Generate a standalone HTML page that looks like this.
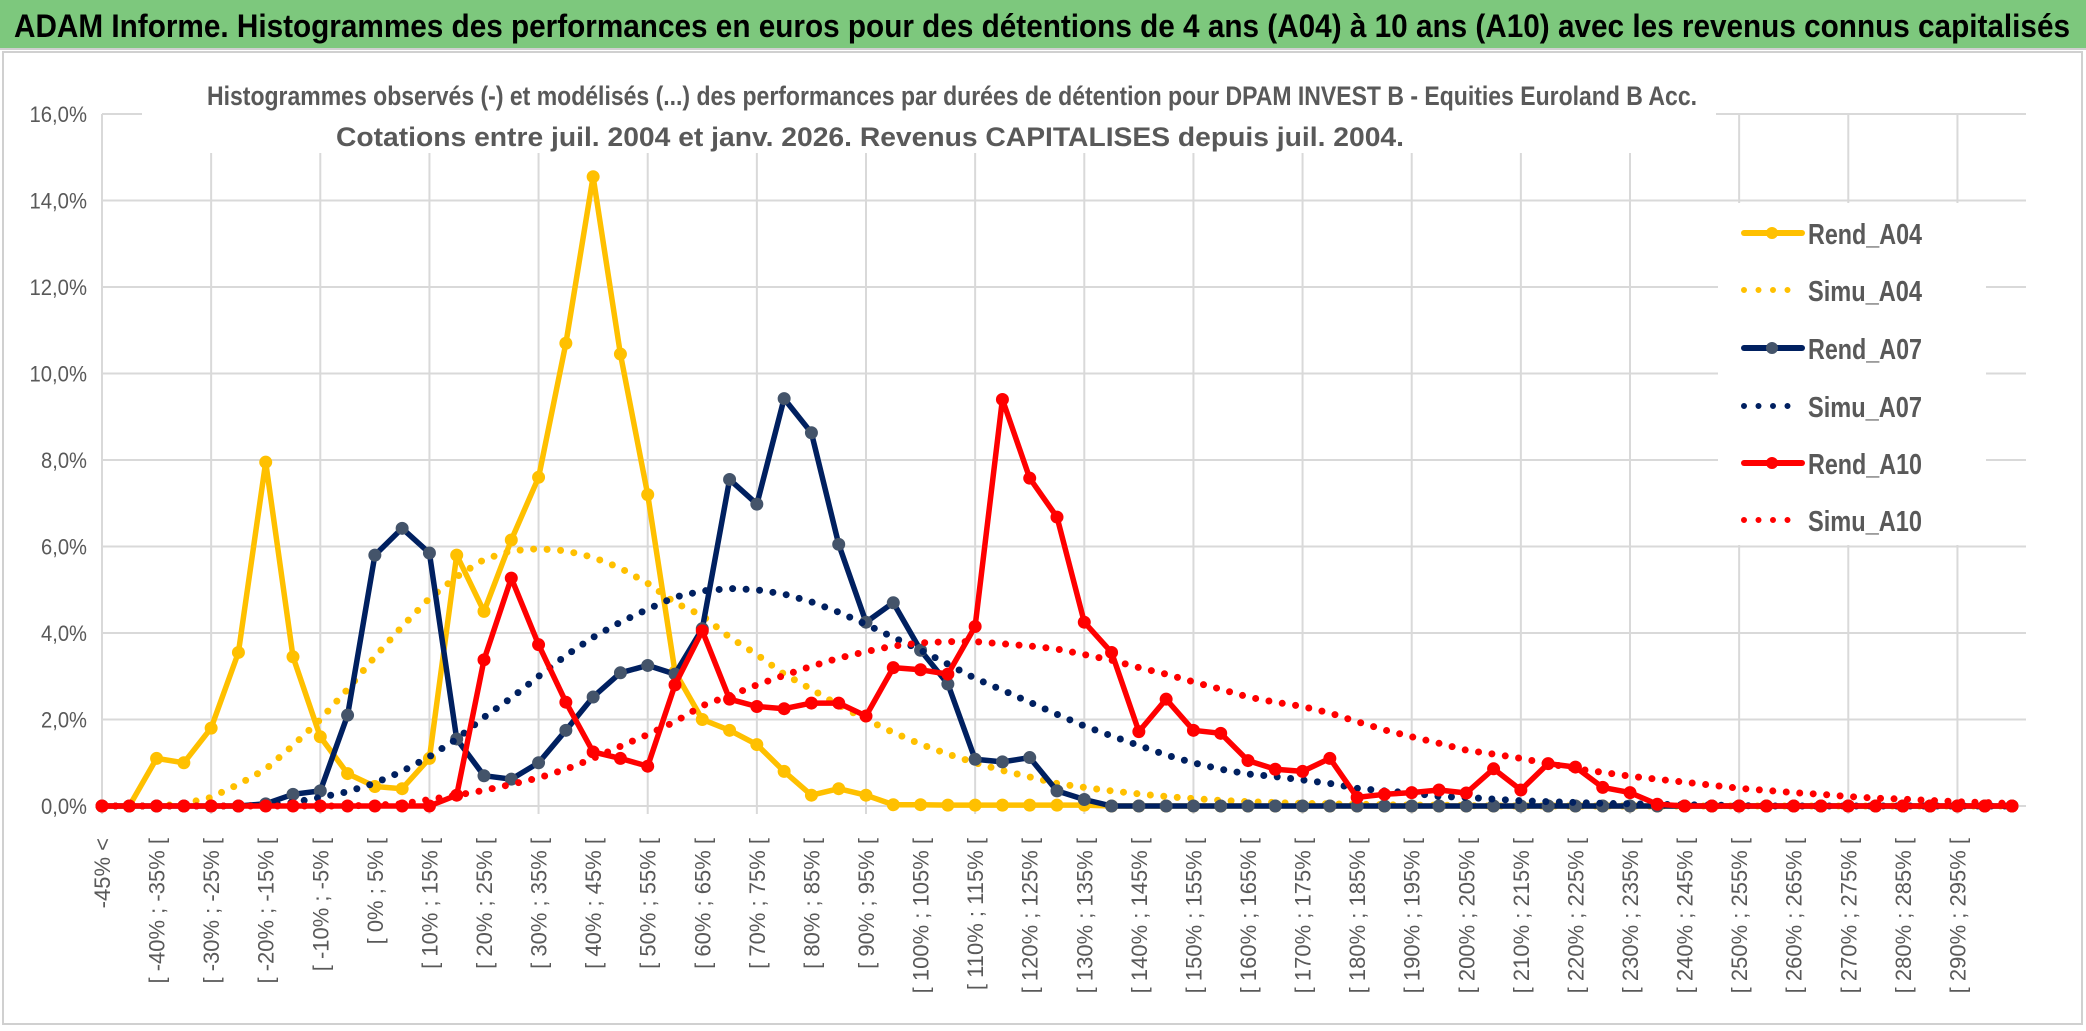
<!DOCTYPE html>
<html><head><meta charset="utf-8"><style>
html,body{margin:0;padding:0;background:#fff;}
svg{display:block;}
text{font-family:"Liberation Sans",sans-serif;}
</style></head><body>
<svg id="chart" width="2086" height="1031" viewBox="0 0 2086 1031" xmlns="http://www.w3.org/2000/svg">
<rect x="0" y="0" width="2086" height="1031" fill="#fff"/>
<rect x="0" y="0" width="2086" height="48" fill="#7DC87D"/>
<line x1="0" y1="49" x2="2086" y2="49" stroke="#cfcfcf" stroke-width="2"/>
<text x="14" y="37" font-size="32" font-weight="bold" fill="#000" textLength="2056" lengthAdjust="spacingAndGlyphs">ADAM Informe. Histogrammes des performances en euros pour des détentions de 4 ans (A04) à 10 ans (A10) avec les revenus connus capitalisés</text>
<rect x="3" y="52" width="2079" height="972" fill="none" stroke="#d0d0d0" stroke-width="2"/>
<g id="grid"></g>
<rect x="142" y="60" width="1574" height="93" fill="#fff"/>
<text x="952" y="105" font-size="27" font-weight="bold" fill="#595959" text-anchor="middle" textLength="1490" lengthAdjust="spacingAndGlyphs">Histogrammes observés (-) et modélisés (...) des performances par durées de détention pour DPAM INVEST B - Equities Euroland B Acc.</text>
<text x="870" y="146" font-size="27" font-weight="bold" fill="#595959" text-anchor="middle" textLength="1068" lengthAdjust="spacingAndGlyphs">Cotations entre juil. 2004 et janv. 2026. Revenus CAPITALISES depuis juil. 2004.</text>
<g id="yaxis"></g>
<g id="xaxis"></g>
<g id="series"></g>
<g id="legend"></g>
</svg>
<script>
const categories = ["-45% <","[ -45% ; -40% [","[ -40% ; -35% [","[ -35% ; -30% [","[ -30% ; -25% [","[ -25% ; -20% [","[ -20% ; -15% [","[ -15% ; -10% [","[ -10% ; -5% [","[ -5% ; 0% [","[ 0% ; 5% [","[ 5% ; 10% [","[ 10% ; 15% [","[ 15% ; 20% [","[ 20% ; 25% [","[ 25% ; 30% [","[ 30% ; 35% [","[ 35% ; 40% [","[ 40% ; 45% [","[ 45% ; 50% [","[ 50% ; 55% [","[ 55% ; 60% [","[ 60% ; 65% [","[ 65% ; 70% [","[ 70% ; 75% [","[ 75% ; 80% [","[ 80% ; 85% [","[ 85% ; 90% [","[ 90% ; 95% [","[ 95% ; 100% [","[ 100% ; 105% [","[ 105% ; 110% [","[ 110% ; 115% [","[ 115% ; 120% [","[ 120% ; 125% [","[ 125% ; 130% [","[ 130% ; 135% [","[ 135% ; 140% [","[ 140% ; 145% [","[ 145% ; 150% [","[ 150% ; 155% [","[ 155% ; 160% [","[ 160% ; 165% [","[ 165% ; 170% [","[ 170% ; 175% [","[ 175% ; 180% [","[ 180% ; 185% [","[ 185% ; 190% [","[ 190% ; 195% [","[ 195% ; 200% [","[ 200% ; 205% [","[ 205% ; 210% [","[ 210% ; 215% [","[ 215% ; 220% [","[ 220% ; 225% [","[ 225% ; 230% [","[ 230% ; 235% [","[ 235% ; 240% [","[ 240% ; 245% [","[ 245% ; 250% [","[ 250% ; 255% [","[ 255% ; 260% [","[ 260% ; 265% [","[ 265% ; 270% [","[ 270% ; 275% [","[ 275% ; 280% [","[ 280% ; 285% [","[ 285% ; 290% [","[ 290% ; 295% [","[ 295% ; 300% [","300% <"];
const rendA04 = [0,0,1.1,1.0,1.8,3.55,7.95,3.45,1.6,0.75,0.45,0.4,1.1,5.8,4.5,6.15,7.6,10.7,14.55,10.45,7.2,3.1,2.0,1.75,1.42,0.8,0.25,0.4,0.25,0.03,0.03,0.02,0.02,0.02,0.02,0.02,0.02,0,0,0,0,0,0,0,0,0,0,0,0,0,0,0,0,0,0,0,0,0,0,0,0,0,0,0,0,0,0,0,0,0,0];
const simuA04 = [0,0,0,0.05,0.2,0.5,0.85,1.4,2.0,2.7,3.45,4.15,4.8,5.3,5.7,5.9,5.95,5.9,5.75,5.5,5.15,4.7,4.4,3.9,3.5,3.05,2.7,2.33,2.0,1.7,1.43,1.2,1.0,0.82,0.67,0.52,0.43,0.35,0.28,0.22,0.17,0.13,0.1,0.08,0.06,0.05,0.04,0.03,0.02,0.02,0.01,0,0,0,0,0,0,0,0,0,0,0,0,0,0,0,0,0,0,0,0];
const rendA07 = [0,0,0,0,0,0,0.05,0.27,0.35,2.1,5.8,6.42,5.85,1.55,0.7,0.62,1.0,1.75,2.52,3.08,3.25,3.05,4.1,7.55,6.98,9.42,8.63,6.05,4.25,4.7,3.6,2.82,1.08,1.02,1.12,0.35,0.15,0,0,0,0,0,0,0,0,0,0,0,0,0,0,0,0,0,0,0,0,0,0,0,0,0,0,0,0,0,0,0,0,0,0];
const simuA07 = [0,0,0,0,0,0,0.02,0.08,0.2,0.33,0.53,0.8,1.14,1.55,2.05,2.5,3.0,3.48,3.9,4.25,4.55,4.83,4.97,5.03,5.0,4.9,4.72,4.48,4.2,3.9,3.6,3.28,2.95,2.68,2.4,2.12,1.85,1.62,1.4,1.18,1.0,0.85,0.74,0.68,0.6,0.52,0.41,0.35,0.3,0.22,0.2,0.16,0.12,0.1,0.08,0.06,0.05,0.04,0.03,0.02,0.01,0,0,0,0,0,0,0,0,0,0];
const rendA10 = [0,0,0,0,0,0,0,0,0,0,0,0,0,0.25,3.38,5.27,3.73,2.4,1.25,1.1,0.92,2.8,4.05,2.47,2.3,2.25,2.38,2.38,2.08,3.2,3.15,3.05,4.15,9.4,7.58,6.68,4.25,3.55,1.72,2.47,1.75,1.68,1.05,0.85,0.8,1.1,0.2,0.27,0.31,0.37,0.3,0.86,0.37,0.98,0.9,0.43,0.31,0.04,0,0,0,0,0,0,0,0,0,0,0,0,0];
const simuA10 = [0,0,0,0,0,0,0,0,0,0,0.02,0.05,0.15,0.25,0.36,0.5,0.65,0.85,1.1,1.38,1.65,1.95,2.32,2.55,2.8,3.02,3.23,3.42,3.57,3.7,3.77,3.8,3.8,3.75,3.7,3.63,3.5,3.37,3.2,3.05,2.87,2.7,2.52,2.4,2.3,2.15,1.95,1.76,1.6,1.45,1.29,1.2,1.1,0.98,0.86,0.78,0.69,0.62,0.55,0.48,0.41,0.36,0.31,0.27,0.22,0.18,0.16,0.13,0.1,0.08,0.06];
const yTicks = [0,2,4,6,8,10,12,14,16];
const yTickLabels = ["0,0%","2,0%","4,0%","6,0%","8,0%","10,0%","12,0%","14,0%","16,0%"];
const seriesNames = ["Rend_A04","Simu_A04","Rend_A07","Simu_A07","Rend_A10","Simu_A10"];

const NS = "http://www.w3.org/2000/svg";
const X0 = 102, X1 = 2012, Y0 = 806, YTOP = 114, YMAX = 16;
function xScale(i){ return X0 + (X1 - X0) * i / (categories.length - 1); }
function yScale(v){ return Y0 - (Y0 - YTOP) * v / YMAX; }
function mk(tag, attrs, parent){ const e = document.createElementNS(NS, tag); for (const k in attrs) e.setAttribute(k, attrs[k]); parent.appendChild(e); return e; }

const grid = document.getElementById('grid');
yTicks.forEach(function(t){
  const l = mk('line', {x1: X0, x2: 2026, y1: yScale(t), y2: yScale(t), stroke: '#d9d9d9', 'stroke-width': 2}, grid);
  
  
});
categories.forEach(function(c, i){
  if (i % 4 === 0) {
    const l = mk('line', {x1: xScale(i), x2: xScale(i), y1: yScale(16), y2: Y0 + 8, stroke: '#d9d9d9', 'stroke-width': 2}, grid);
    
    
  }
});

const yaxis = document.getElementById('yaxis');
yTicks.forEach(function(t, k){
  const tx = mk('text', {x: 87, y: yScale(t) + 8, 'font-size': 22, fill: '#595959', 'text-anchor': 'end', textLength: (yTickLabels[k].length * 11.5), lengthAdjust: 'spacingAndGlyphs'}, yaxis);
  tx.textContent = yTickLabels[k];
  
  
});

const xaxis = document.getElementById('xaxis');
categories.forEach(function(c, i){
  if (i % 2 === 0 && i < 70) {
    const x = xScale(i) + 8, y = 838;
    const tx = mk('text', {x: x, y: y, 'font-size': 22, fill: '#595959', 'text-anchor': 'end', transform: 'rotate(-90 ' + x + ' ' + y + ')'}, xaxis);
    tx.textContent = c;
    
    
  }
});

const seriesG = document.getElementById('series');
function drawSolid(vals, color, markerFill, name){
  const g = mk('g', {}, seriesG);
  
  
  const pts = vals.map(function(v, i){ return xScale(i).toFixed(1) + ',' + yScale(v).toFixed(1); }).join(' ');
  const pl = mk('polyline', {points: pts, fill: 'none', stroke: color, 'stroke-width': 5.5, 'stroke-linejoin': 'round', 'stroke-linecap': 'round'}, g);
  
  
  vals.forEach(function(v, i){
    const c = mk('circle', {cx: xScale(i), cy: yScale(v), r: 6, fill: markerFill, stroke: markerFill, 'stroke-width': 1}, g);
    
    
  });
}
function drawDotted(vals, color, name){
  const pts = vals.map(function(v, i){ return xScale(i).toFixed(1) + ',' + yScale(v).toFixed(1); }).join(' ');
  const pl = mk('polyline', {points: pts, fill: 'none', stroke: color, 'stroke-width': 7, 'stroke-dasharray': '0 13.5', 'stroke-linecap': 'round', 'stroke-linejoin': 'round'}, seriesG);
  
  
}
drawSolid(rendA04, '#FFC000', '#FFC000', 'rend-a04-series');
drawDotted(simuA04, '#FFC000', 'simu-a04-series');
drawSolid(rendA07, '#002060', '#44546A', 'rend-a07-series');
drawDotted(simuA07, '#002060', 'simu-a07-series');
drawSolid(rendA10, '#FF0000', '#FF0000', 'rend-a10-series');
drawDotted(simuA10, '#FF0000', 'simu-a10-series');

const legend = document.getElementById('legend');
const lb = mk('rect', {x: 1718, y: 203, width: 268, height: 342, fill: '#fff'}, legend);


const legColors = ['#FFC000','#FFC000','#002060','#002060','#FF0000','#FF0000'];
const legMarkers = ['#FFC000','#FFC000','#44546A','#44546A','#FF0000','#FF0000'];
const legY = [233, 290, 348, 406, 463, 520];
seriesNames.forEach(function(n, k){
  const y = legY[k];
  const g = mk('g', {}, legend);
  
  
  if (k % 2 === 0) {
    mk('line', {x1: 1744, x2: 1802, y1: y, y2: y, stroke: legColors[k], 'stroke-width': 6, 'stroke-linecap': 'round'}, g);
    mk('circle', {cx: 1772, cy: y, r: 6, fill: legMarkers[k]}, g);
  } else {
    mk('line', {x1: 1744, x2: 1802, y1: y, y2: y, stroke: legColors[k], 'stroke-width': 6, 'stroke-dasharray': '0 14.5', 'stroke-linecap': 'round'}, g);
  }
  const t = mk('text', {x: 1808, y: y + 11, 'font-size': 29, 'font-weight': 'bold', fill: '#595959', textLength: 114, lengthAdjust: 'spacingAndGlyphs'}, g);
  t.textContent = n;
  
  
});
</script>
</body></html>
